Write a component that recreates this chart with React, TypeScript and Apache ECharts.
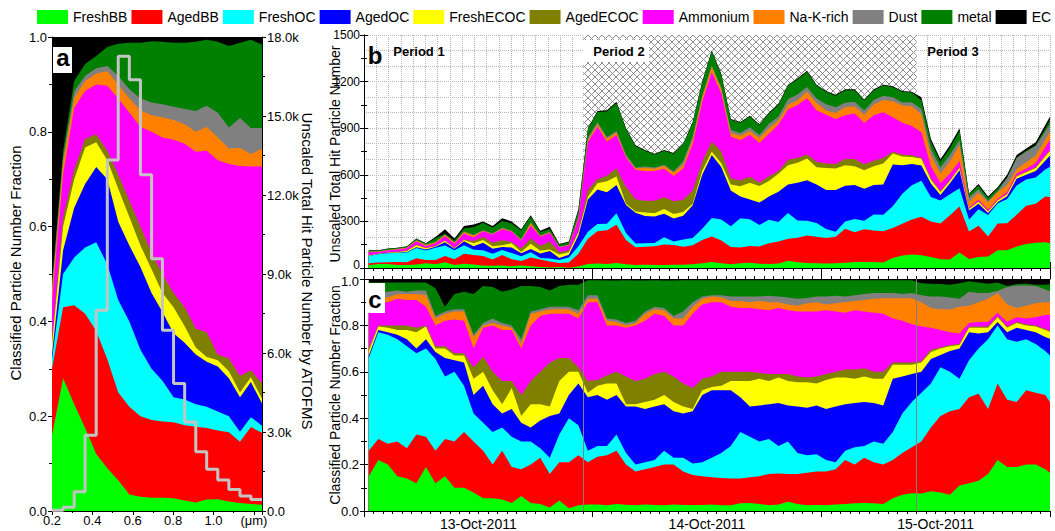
import React, { useEffect, useRef } from 'react';
import * as echarts from 'echarts';

const CLASS_NAMES = ['FreshBB', 'AgedBB', 'FreshOC', 'AgedOC', 'FreshECOC', 'AgedECOC', 'Ammonium', 'Na-K-rich', 'Dust', 'metal', 'EC'];
const CLASS_COLORS = ['#00ff00', '#ff0000', '#00ffff', '#0000ff', '#ffff00', '#808000', '#ff00ff', '#ff8000', '#808080', '#008000', '#000000'];

// ---------- Panel a: size-resolved (µm) ----------
const SIZE_EDGES_UM = [0.2, 0.255, 0.31, 0.364, 0.419, 0.474, 0.528, 0.583, 0.638, 0.693, 0.747, 0.802, 0.857, 0.912, 0.966, 1.021, 1.076, 1.131, 1.185, 1.24];
const SIZE_HIST_COUNTS = [30, 140, 730, 2880, 7620, 13330, 17270, 16380, 12770, 9580, 6860, 4840, 3380, 2250, 1590, 1175, 820, 570, 440];

// cumulative fraction (top edge of each class band), EC fills the rest up to 1
const A_TOP_FRESHBB = [0.16, 0.28, 0.225, 0.175, 0.12, 0.09, 0.065, 0.035, 0.03, 0.028, 0.028, 0.027, 0.022, 0.018, 0.024, 0.025, 0.02, 0.017, 0.015, 0.013];
const A_TOP_AGEDBB = [0.30, 0.43, 0.434, 0.416, 0.38, 0.32, 0.25, 0.22, 0.20, 0.192, 0.189, 0.187, 0.181, 0.178, 0.175, 0.17, 0.166, 0.146, 0.177, 0.165];
const A_TOP_FRESHOC = [0.32, 0.50, 0.535, 0.556, 0.567, 0.52, 0.445, 0.40, 0.34, 0.30, 0.275, 0.24, 0.235, 0.225, 0.22, 0.21, 0.20, 0.167, 0.198, 0.18];
const A_TOP_AGEDOC = [0.33, 0.55, 0.64, 0.69, 0.726, 0.70, 0.61, 0.56, 0.515, 0.46, 0.42, 0.375, 0.355, 0.33, 0.315, 0.305, 0.28, 0.24, 0.272, 0.227];
const A_TOP_FRESHECOC = [0.35, 0.60, 0.70, 0.767, 0.778, 0.74, 0.68, 0.62, 0.56, 0.51, 0.46, 0.43, 0.39, 0.345, 0.325, 0.318, 0.295, 0.25, 0.282, 0.237];
const A_TOP_AGEDECOC = [0.36, 0.62, 0.72, 0.785, 0.795, 0.76, 0.71, 0.655, 0.60, 0.545, 0.50, 0.46, 0.43, 0.385, 0.377, 0.33, 0.322, 0.285, 0.297, 0.269];
const A_TOP_AMMONIUM = [0.44, 0.71, 0.851, 0.886, 0.90, 0.897, 0.87, 0.84, 0.81, 0.80, 0.788, 0.783, 0.775, 0.758, 0.76, 0.74, 0.732, 0.728, 0.727, 0.727];
const A_TOP_NAK = [0.46, 0.735, 0.872, 0.907, 0.923, 0.928, 0.90, 0.87, 0.845, 0.835, 0.83, 0.825, 0.816, 0.80, 0.81, 0.788, 0.765, 0.766, 0.753, 0.764];
const A_TOP_DUST = [0.47, 0.745, 0.885, 0.918, 0.934, 0.939, 0.918, 0.89, 0.87, 0.862, 0.858, 0.853, 0.848, 0.844, 0.855, 0.84, 0.809, 0.829, 0.808, 0.808];
const A_TOP_METAL = [0.48, 0.76, 0.907, 0.943, 0.96, 0.979, 0.986, 0.988, 0.988, 0.991, 0.99, 0.988, 0.988, 0.99, 0.994, 0.99, 0.981, 0.988, 0.994, 0.984];

// ---------- Panels b & c: hourly time series (hours since 13-Oct-2011 00:00) ----------
const HOURLY_TOTAL = [
  116, 115, 125, 130, 140, 190, 160, 200, 250, 190,
  270, 280, 300, 270, 320, 300, 250, 340, 240, 265,
  155, 170, 380, 900, 1010, 1015, 1070, 900, 790, 760,
  735, 760, 740, 800, 940, 1200, 1400, 1250, 960, 940,
  980, 925, 1000, 1055, 1180, 1220, 1270, 1180, 1140, 1115,
  1150, 1150, 1085, 1150, 1180, 1170, 1140, 1135, 1100, 830,
  700, 790, 900, 480, 540, 460, 520, 600, 728, 770,
  810, 920, 1030];

const C_TOP_FRESHBB = [
  0.15, 0.22, 0.20, 0.15, 0.14, 0.12, 0.19, 0.12, 0.15, 0.10,
  0.10, 0.08, 0.055, 0.055, 0.05, 0.035, 0.065, 0.035, 0.03, 0.015,
  0.045, 0.012, 0.025, 0.028, 0.028, 0.025, 0.03, 0.027, 0.025, 0.028,
  0.026, 0.025, 0.028, 0.026, 0.026, 0.026, 0.028, 0.025, 0.025, 0.033,
  0.035, 0.03, 0.025, 0.028, 0.04, 0.03, 0.025, 0.026, 0.025, 0.028,
  0.03, 0.033, 0.035, 0.033, 0.03, 0.055, 0.07, 0.076, 0.075, 0.085,
  0.08, 0.07, 0.11, 0.12, 0.13, 0.16, 0.22, 0.19, 0.19, 0.20,
  0.20, 0.18, 0.15];
const C_TOP_AGEDBB = [
  0.26, 0.31, 0.29, 0.30, 0.27, 0.33, 0.32, 0.26, 0.31, 0.30,
  0.34, 0.30, 0.26, 0.20, 0.26, 0.19, 0.18, 0.20, 0.23, 0.16,
  0.21, 0.21, 0.24, 0.21, 0.234, 0.24, 0.26, 0.20, 0.17, 0.18,
  0.19, 0.20, 0.20, 0.17, 0.155, 0.15, 0.145, 0.142, 0.14, 0.14,
  0.145, 0.15, 0.16, 0.162, 0.16, 0.16, 0.165, 0.17, 0.17, 0.18,
  0.22, 0.20, 0.23, 0.21, 0.20, 0.22, 0.25, 0.275, 0.30, 0.36,
  0.41, 0.43, 0.44, 0.49, 0.505, 0.44, 0.55, 0.48, 0.47, 0.52,
  0.51, 0.50, 0.44];
const C_TOP_FRESHOC = [
  0.66, 0.77, 0.76, 0.74, 0.71, 0.68, 0.70, 0.655, 0.58, 0.60,
  0.54, 0.42, 0.38, 0.34, 0.36, 0.32, 0.30, 0.30, 0.27, 0.23,
  0.33, 0.40, 0.37, 0.26, 0.28, 0.28, 0.33, 0.25, 0.20, 0.21,
  0.22, 0.26, 0.23, 0.23, 0.205, 0.21, 0.23, 0.25, 0.28, 0.34,
  0.32, 0.30, 0.31, 0.28, 0.30, 0.25, 0.24, 0.245, 0.22, 0.21,
  0.26, 0.275, 0.28, 0.30, 0.29, 0.34, 0.42, 0.47, 0.51, 0.55,
  0.62, 0.60, 0.57, 0.65, 0.70, 0.74, 0.80, 0.74, 0.73, 0.74,
  0.72, 0.69, 0.65];
const C_TOP_AGEDOC = [
  0.67, 0.78, 0.77, 0.76, 0.74, 0.70, 0.74, 0.685, 0.66, 0.65,
  0.64, 0.50, 0.54, 0.46, 0.42, 0.44, 0.38, 0.36, 0.39, 0.41,
  0.42, 0.50, 0.55, 0.49, 0.50, 0.48, 0.50, 0.45, 0.45, 0.44,
  0.45, 0.46, 0.43, 0.42, 0.43, 0.50, 0.52, 0.52, 0.52, 0.49,
  0.45, 0.455, 0.46, 0.465, 0.455, 0.45, 0.445, 0.455, 0.44, 0.45,
  0.46, 0.465, 0.47, 0.465, 0.455, 0.57, 0.58, 0.59, 0.60, 0.655,
  0.672, 0.69, 0.70, 0.77, 0.765, 0.77, 0.815, 0.77, 0.79, 0.78,
  0.77, 0.75, 0.735];
const C_TOP_FRESHECOC = [
  0.69, 0.795, 0.79, 0.78, 0.78, 0.77, 0.795, 0.70, 0.70, 0.67,
  0.67, 0.57, 0.60, 0.52, 0.46, 0.53, 0.41, 0.46, 0.46, 0.45,
  0.56, 0.60, 0.60, 0.51, 0.54, 0.55, 0.55, 0.46, 0.46, 0.47,
  0.48, 0.50, 0.47, 0.45, 0.44, 0.52, 0.535, 0.54, 0.56, 0.56,
  0.56, 0.57, 0.56, 0.575, 0.56, 0.555, 0.555, 0.55, 0.565, 0.575,
  0.575, 0.57, 0.58, 0.57, 0.57, 0.63, 0.63, 0.63, 0.64, 0.685,
  0.70, 0.71, 0.715, 0.79, 0.79, 0.79, 0.835, 0.79, 0.81, 0.80,
  0.795, 0.78, 0.765];
const C_TOP_AGEDECOC = [
  0.70, 0.80, 0.80, 0.80, 0.80, 0.79, 0.80, 0.71, 0.71, 0.68,
  0.68, 0.62, 0.665, 0.60, 0.56, 0.56, 0.50, 0.56, 0.60, 0.64,
  0.66, 0.66, 0.62, 0.56, 0.565, 0.585, 0.60, 0.58, 0.56, 0.57,
  0.59, 0.60, 0.58, 0.55, 0.53, 0.57, 0.58, 0.60, 0.60, 0.60,
  0.60, 0.595, 0.59, 0.59, 0.59, 0.58, 0.575, 0.58, 0.59, 0.60,
  0.61, 0.61, 0.615, 0.60, 0.60, 0.64, 0.64, 0.64, 0.645, 0.695,
  0.705, 0.715, 0.72, 0.795, 0.795, 0.795, 0.84, 0.795, 0.815, 0.805,
  0.80, 0.785, 0.77];
const C_TOP_AMMONIUM = [
  0.89, 0.90, 0.90, 0.915, 0.91, 0.91, 0.88, 0.80, 0.82, 0.825,
  0.82, 0.70, 0.79, 0.80, 0.78, 0.78, 0.70, 0.80, 0.84, 0.85,
  0.85, 0.85, 0.83, 0.90, 0.90, 0.80, 0.80, 0.79, 0.80, 0.82,
  0.85, 0.84, 0.80, 0.80, 0.85, 0.89, 0.90, 0.90, 0.88, 0.875,
  0.875, 0.87, 0.865, 0.875, 0.865, 0.86, 0.86, 0.86, 0.865, 0.86,
  0.855, 0.865, 0.86, 0.855, 0.85, 0.83, 0.82, 0.805, 0.795, 0.79,
  0.78, 0.77, 0.765, 0.81, 0.815, 0.815, 0.855, 0.815, 0.835, 0.83,
  0.835, 0.845, 0.845];
const C_TOP_NAK = [
  0.905, 0.925, 0.92, 0.935, 0.935, 0.935, 0.93, 0.83, 0.85, 0.86,
  0.86, 0.75, 0.80, 0.81, 0.80, 0.79, 0.72, 0.85, 0.86, 0.87,
  0.87, 0.87, 0.85, 0.915, 0.915, 0.82, 0.815, 0.80, 0.81, 0.85,
  0.87, 0.865, 0.83, 0.83, 0.88, 0.915, 0.925, 0.92, 0.905, 0.905,
  0.90, 0.905, 0.90, 0.90, 0.89, 0.885, 0.895, 0.90, 0.89, 0.895,
  0.90, 0.905, 0.91, 0.915, 0.917, 0.917, 0.917, 0.917, 0.90, 0.875,
  0.87, 0.868, 0.88, 0.885, 0.90, 0.915, 0.94, 0.89, 0.875, 0.885,
  0.895, 0.90, 0.90];
const C_TOP_DUST = [
  0.93, 0.945, 0.945, 0.95, 0.945, 0.95, 0.95, 0.84, 0.86, 0.87,
  0.87, 0.76, 0.81, 0.83, 0.81, 0.80, 0.74, 0.86, 0.87, 0.88,
  0.88, 0.88, 0.865, 0.93, 0.93, 0.83, 0.825, 0.81, 0.82, 0.86,
  0.88, 0.875, 0.84, 0.86, 0.90, 0.925, 0.93, 0.93, 0.925, 0.925,
  0.925, 0.925, 0.928, 0.925, 0.92, 0.915, 0.918, 0.925, 0.925, 0.928,
  0.925, 0.93, 0.935, 0.94, 0.94, 0.94, 0.935, 0.94, 0.93, 0.925,
  0.925, 0.92, 0.915, 0.945, 0.94, 0.94, 0.948, 0.965, 0.972, 0.972,
  0.97, 0.955, 0.94];
const C_TOP_METAL = [
  0.985, 0.985, 0.985, 0.985, 0.985, 0.985, 0.985, 0.96, 0.88, 0.935,
  0.945, 0.935, 0.97, 0.965, 0.945, 0.955, 0.97, 0.97, 0.965, 0.95,
  0.97, 0.975, 0.975, 0.995, 0.995, 0.993, 0.993, 0.995, 0.993, 0.993,
  0.995, 0.993, 0.993, 0.995, 0.995, 0.995, 0.995, 0.995, 0.995, 0.995,
  0.995, 0.995, 0.995, 0.995, 0.995, 0.995, 0.995, 0.995, 0.995, 0.995,
  0.995, 0.995, 0.995, 0.995, 0.995, 0.995, 0.995, 0.995, 0.982, 0.98,
  0.978, 0.975, 0.982, 0.99, 0.985, 0.98, 0.985, 0.97, 0.978, 0.98,
  0.975, 0.975, 0.98];

const PERIOD2_START_H = 23;
const PERIOD2_END_H = 58;
const DATE_LABELS: Record<number, string> = { 12: '13-Oct-2011', 36: '14-Oct-2011', 60: '15-Oct-2011' };

const FONT = "'Liberation Sans', Arial, sans-serif";

function makeHatch(): HTMLCanvasElement {
  const s = 7;
  const cv = document.createElement('canvas');
  cv.width = s;
  cv.height = s;
  const ctx = cv.getContext('2d')!;
  ctx.fillStyle = '#ffffff';
  ctx.fillRect(0, 0, s, s);
  ctx.strokeStyle = '#8c8c8c';
  ctx.lineWidth = 1;
  ctx.beginPath();
  ctx.moveTo(0, 0);
  ctx.lineTo(s, s);
  ctx.moveTo(s, 0);
  ctx.lineTo(0, s);
  ctx.stroke();
  return cv;
}

function areaSeries(name: string, color: string, data: number[][], xi: number, yi: number) {
  return {
    type: 'line',
    name,
    xAxisIndex: xi,
    yAxisIndex: yi,
    data,
    symbol: 'none',
    showSymbol: false,
    smooth: false,
    silent: true,
    z: 5,
    lineStyle: { width: 0, color },
    itemStyle: { color },
    areaStyle: { color, opacity: 1 },
    emphasis: { disabled: true },
  };
}

const black = { color: '#000', width: 1 };

export default function App() {
  const ref = useRef<HTMLDivElement>(null);

  useEffect(() => {
    const chart = echarts.init(ref.current!, null, { renderer: 'svg' });
    const hatch = makeHatch();

    const A_TOPS = [A_TOP_FRESHBB, A_TOP_AGEDBB, A_TOP_FRESHOC, A_TOP_AGEDOC, A_TOP_FRESHECOC, A_TOP_AGEDECOC, A_TOP_AMMONIUM, A_TOP_NAK, A_TOP_DUST, A_TOP_METAL];
    const C_TOPS = [C_TOP_FRESHBB, C_TOP_AGEDBB, C_TOP_FRESHOC, C_TOP_AGEDOC, C_TOP_FRESHECOC, C_TOP_AGEDECOC, C_TOP_AMMONIUM, C_TOP_NAK, C_TOP_DUST, C_TOP_METAL];
    const hours = HOURLY_TOTAL.map((_, k) => k + 0.5);

    const series: any[] = [];
    for (let i = 10; i >= 0; i--) {
      const data = SIZE_EDGES_UM.map((x, j) => [x, i === 10 ? 1 : A_TOPS[i][j]]);
      series.push(areaSeries(CLASS_NAMES[i], CLASS_COLORS[i], data, 0, 0));
    }
    const histData = SIZE_HIST_COUNTS.map((c, j) => [SIZE_EDGES_UM[j], c]);
    histData.push([SIZE_EDGES_UM[SIZE_EDGES_UM.length - 1], SIZE_HIST_COUNTS[SIZE_HIST_COUNTS.length - 1]]);
    series.push({
      type: 'line', name: 'hits', xAxisIndex: 0, yAxisIndex: 1, data: histData, step: 'end',
      symbol: 'none', silent: true, z: 10, lineStyle: { color: '#c4c4c4', width: 3 },
    });
    series.push({
      type: 'line', name: 'hatch', xAxisIndex: 1, yAxisIndex: 2, data: [[PERIOD2_START_H, 0]], symbol: 'none',
      lineStyle: { width: 0 }, z: 2, silent: true,
      markArea: {
        silent: true, z: 1,
        itemStyle: { color: { image: hatch, repeat: 'repeat', imageWidth: 7, imageHeight: 7 } as any },
        data: [[{ xAxis: PERIOD2_START_H, yAxis: 0 }, { xAxis: PERIOD2_END_H, yAxis: 1500 }]],
      },
    });
    for (let i = 10; i >= 0; i--) {
      const data = hours.map((h, k) => [h, (i === 10 ? 1 : C_TOPS[i][k]) * HOURLY_TOTAL[k]]);
      series.push(areaSeries(CLASS_NAMES[i], CLASS_COLORS[i], data, 1, 2));
    }
    for (let i = 10; i >= 0; i--) {
      const data = hours.map((h, k) => [h, i === 10 ? 1 : C_TOPS[i][k]]);
      series.push(areaSeries(CLASS_NAMES[i], CLASS_COLORS[i], data, 4, 5));
    }
    series.push({
      type: 'line', name: 'bounds', xAxisIndex: 4, yAxisIndex: 5, data: [[PERIOD2_START_H, 0]], symbol: 'none',
      lineStyle: { width: 0 }, z: 20, silent: true,
      markLine: {
        silent: true, symbol: ['none', 'none'], z: 20,
        lineStyle: { color: '#808080', width: 1, type: 'solid' },
        label: { show: false },
        data: [{ xAxis: PERIOD2_START_H }, { xAxis: PERIOD2_END_H }],
      },
    });

    const tickLabel = { color: '#000', fontSize: 13, fontFamily: FONT };
    const hourTicks = (gridIndex: number, position: 'top' | 'bottom') => ({
      type: 'value', gridIndex, position, min: 0, max: 72, interval: 24,
      axisLine: { show: true, lineStyle: black },
      axisTick: { show: true, length: 6, lineStyle: black },
      minorTick: { show: true, splitNumber: 24, length: 3, lineStyle: black },
      axisLabel: { show: false },
      splitLine: { show: false },
    });

    const option: any = {
      animation: false,
      backgroundColor: '#ffffff',
      textStyle: { fontFamily: FONT },
      legend: {
        data: CLASS_NAMES, top: 10, left: 37, width: 1018, padding: 0,
        itemWidth: 31, itemHeight: 14, itemGap: 4, icon: 'rect', selectedMode: false,
        textStyle: { fontSize: 14, color: '#000', fontFamily: FONT },
      },
      grid: [
        { left: 52, top: 37, width: 210, height: 474 },
        { left: 364, top: 35, width: 686, height: 233 },
        { left: 364, top: 279, width: 686, height: 232 },
      ],
      xAxis: [
        {
          type: 'value', gridIndex: 0, min: 0.2, max: 1.24, interval: 0.2,
          axisLine: { lineStyle: black },
          axisTick: { show: true, length: 4, lineStyle: black },
          minorTick: { show: true, splitNumber: 2, length: 2, lineStyle: black },
          splitLine: { show: false },
          axisLabel: {
            ...tickLabel, margin: 3, showMaxLabel: false,
            formatter: (v: number) => (Math.abs(v - 1.2) < 1e-6 ? '(\u03bcm)' : Math.abs(v - 1.24) < 1e-6 ? '' : v.toFixed(1)),
          },
        },
        hourTicks(1, 'bottom'),
        hourTicks(1, 'top'),
        {
          type: 'value', gridIndex: 1, min: 0, max: 56, interval: 1, position: 'bottom',
          axisLine: { show: false }, axisTick: { show: false }, axisLabel: { show: false },
          splitLine: { show: true, lineStyle: { color: '#b5b5b5', type: 'dotted', width: 1 } },
        },
        hourTicks(2, 'bottom'),
        {
          type: 'value', gridIndex: 2, min: 0, max: 72, interval: 12, position: 'bottom',
          axisLine: { show: false }, axisTick: { show: false }, splitLine: { show: false },
          axisLabel: { ...tickLabel, fontSize: 14, margin: 6, formatter: (v: number) => DATE_LABELS[Math.round(v)] || '' },
        },
        hourTicks(2, 'top'),
      ],
      yAxis: [
        {
          type: 'value', gridIndex: 0, min: 0, max: 1, interval: 0.2, position: 'left',
          axisLine: { show: true, lineStyle: black },
          axisTick: { show: true, length: 4, lineStyle: black },
          minorTick: { show: true, splitNumber: 2, length: 3, lineStyle: black },
          splitLine: { show: false },
          axisLabel: { ...tickLabel, margin: 5, formatter: (v: number) => v.toFixed(1) },
        },
        {
          type: 'value', gridIndex: 0, min: 0, max: 18000, interval: 3000, position: 'right',
          axisLine: { show: true, lineStyle: black },
          axisTick: { show: true, length: 4, lineStyle: black },
          minorTick: { show: true, splitNumber: 2, length: 3, lineStyle: black },
          splitLine: { show: false },
          axisLabel: { ...tickLabel, margin: 5, formatter: (v: number) => (v === 0 ? '0.0' : (v / 1000).toFixed(1) + 'k') },
        },
        {
          type: 'value', gridIndex: 1, min: 0, max: 1500, interval: 300, position: 'left',
          axisLine: { show: true, lineStyle: black },
          axisTick: { show: true, length: 4, lineStyle: black },
          minorTick: { show: true, splitNumber: 2, length: 3, lineStyle: black },
          splitLine: { show: false },
          axisLabel: {
            ...tickLabel, fontSize: 12, margin: 4,
            formatter: (v: number) => (v === 0 ? '{lo|0}' : String(v)),
            rich: { lo: { fontSize: 12, fontFamily: FONT, color: '#000', padding: [0, 0, 7, 0] } },
          },
        },
        {
          type: 'value', gridIndex: 1, min: 0, max: 1500, interval: 300, position: 'right',
          axisLine: { show: true, lineStyle: black },
          axisTick: { show: true, length: 4, lineStyle: black },
          minorTick: { show: true, splitNumber: 2, length: 3, lineStyle: black },
          splitLine: { show: false }, axisLabel: { show: false },
        },
        {
          type: 'value', gridIndex: 1, min: 0, max: 1500, interval: 100, position: 'left',
          axisLine: { show: false }, axisTick: { show: false }, axisLabel: { show: false },
          splitLine: { show: true, lineStyle: { color: '#b5b5b5', type: 'dotted', width: 1 } },
        },
        {
          type: 'value', gridIndex: 2, min: 0, max: 1, interval: 0.2, position: 'left',
          axisLine: { show: true, lineStyle: black },
          axisTick: { show: true, length: 4, lineStyle: black },
          minorTick: { show: true, splitNumber: 2, length: 3, lineStyle: black },
          splitLine: { show: false },
          axisLabel: {
            ...tickLabel, margin: 5,
            formatter: (v: number) => (v === 1 ? '{hi|1.0}' : v.toFixed(1)),
            rich: { hi: { fontSize: 13, fontFamily: FONT, color: '#000', padding: [5, 0, 0, 0] } },
          },
        },
        {
          type: 'value', gridIndex: 2, min: 0, max: 1, interval: 0.2, position: 'right',
          axisLine: { show: true, lineStyle: black },
          axisTick: { show: true, length: 4, lineStyle: black },
          minorTick: { show: true, splitNumber: 2, length: 3, lineStyle: black },
          splitLine: { show: false }, axisLabel: { show: false },
        },
      ],
      series,
      graphic: [
        { type: 'text', z: 100, x: 15, y: 263, rotation: Math.PI / 2, style: { text: 'Classified Particle Number Fraction', fontSize: 15, fontFamily: FONT, fill: '#000', align: 'center', verticalAlign: 'middle' } },
        { type: 'text', z: 100, x: 307, y: 271, rotation: -Math.PI / 2, style: { text: 'Unscaled Total Hit Particle Number by ATOFMS', fontSize: 15, fontFamily: FONT, fill: '#000', align: 'center', verticalAlign: 'middle' } },
        { type: 'text', z: 100, x: 335, y: 154, rotation: Math.PI / 2, style: { text: 'Unscaled Total Hit Particle Number', fontSize: 14, fontFamily: FONT, fill: '#000', align: 'center', verticalAlign: 'middle' } },
        { type: 'text', z: 100, x: 335, y: 395, rotation: Math.PI / 2, style: { text: 'Classified Particle Number Fraction', fontSize: 14, fontFamily: FONT, fill: '#000', align: 'center', verticalAlign: 'middle' } },
        { type: 'rect', z: 100, shape: { x: 53, y: 47, width: 19, height: 26 }, style: { fill: '#fff' } },
        { type: 'text', z: 101, x: 63, y: 57, style: { text: 'a', fontSize: 24, fontWeight: 'bold', fontFamily: FONT, fill: '#000', align: 'center', verticalAlign: 'middle' } },
        { type: 'text', z: 101, x: 375, y: 55, style: { text: 'b', fontSize: 24, fontWeight: 'bold', fontFamily: FONT, fill: '#000', align: 'center', verticalAlign: 'middle' } },
        { type: 'rect', z: 100, shape: { x: 366, y: 283, width: 19, height: 30 }, style: { fill: '#fff' } },
        { type: 'text', z: 101, x: 375, y: 299, style: { text: 'c', fontSize: 24, fontWeight: 'bold', fontFamily: FONT, fill: '#000', align: 'center', verticalAlign: 'middle' } },
        { type: 'text', z: 101, x: 419, y: 51, style: { text: 'Period 1', fontSize: 13, fontWeight: 'bold', fontFamily: FONT, fill: '#000', align: 'center', verticalAlign: 'middle' } },
        { type: 'rect', z: 100, shape: { x: 583, y: 40, width: 66, height: 22 }, style: { fill: '#fff' } },
        { type: 'text', z: 101, x: 619, y: 51, style: { text: 'Period 2', fontSize: 13, fontWeight: 'bold', fontFamily: FONT, fill: '#000', align: 'center', verticalAlign: 'middle' } },
        { type: 'text', z: 101, x: 953, y: 51, style: { text: 'Period 3', fontSize: 13, fontWeight: 'bold', fontFamily: FONT, fill: '#000', align: 'center', verticalAlign: 'middle' } },
      ],
    };

    chart.setOption(option);
    return () => chart.dispose();
  }, []);

  return <div ref={ref} style={{ position: 'fixed', left: 0, top: 0, width: 1055, height: 531, background: '#fff' }} />;
}
